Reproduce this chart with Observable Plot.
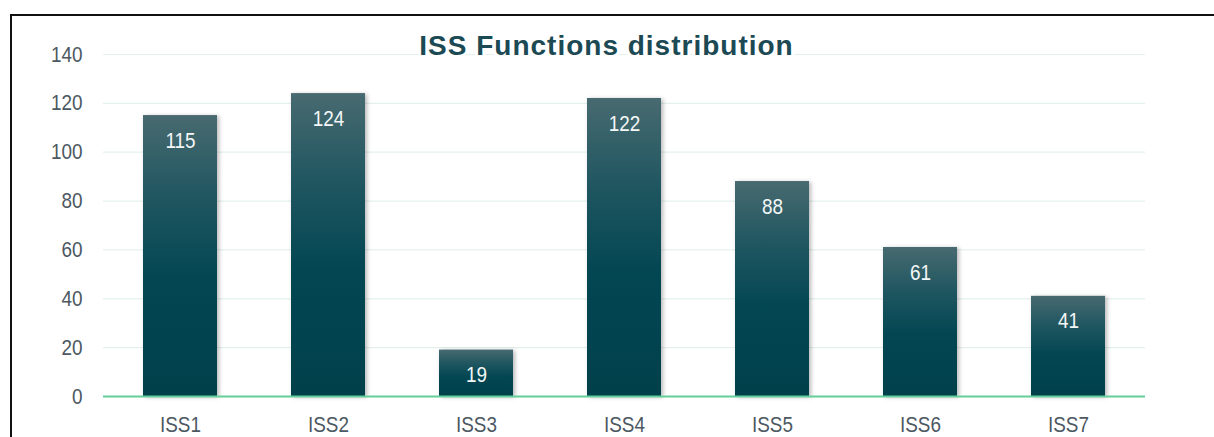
<!DOCTYPE html>
<html>
<head>
<meta charset="utf-8">
<script src="https://cdn.jsdelivr.net/npm/d3@7"></script>
<script src="https://cdn.jsdelivr.net/npm/@observablehq/plot@0.6"></script>
<style>
  html, body { margin: 0; padding: 0; background: #fff; }
  #wrap { position: relative; width: 1214px; height: 437px; overflow: hidden; }
  #border { position: absolute; left: 10px; top: 14px; right: -4px; bottom: -4px;
            border-top: 2.5px solid #111; border-left: 2.5px solid #111; pointer-events: none; }
  #wrap svg g[aria-label="bar"] rect { filter: drop-shadow(2px 1px 2px rgba(0,0,0,0.28)); }
  #wrap svg g[aria-description="chart title"] text { letter-spacing: 1px; }
</style>
</head>
<body>
<div id="wrap"><div id="border"></div></div>
<script>
// ISS function counts
const categories = ["ISS1", "ISS2", "ISS3", "ISS4", "ISS5", "ISS6", "ISS7"];
const counts = [115, 124, 19, 122, 88, 61, 41];
const yTicks = [0, 20, 40, 60, 80, 100, 120, 140];
const chartTitle = "ISS Functions distribution";

const rows = categories.map((c, i) => ({category: c, count: counts[i]}));

const sans = "'Liberation Sans', Arial, sans-serif";

const chart = Plot.plot({
  width: 1214,
  height: 437,
  marginLeft: 103,
  marginRight: 69,
  marginTop: 54,
  marginBottom: 41,
  style: {fontFamily: sans, background: "transparent"},
  x: {domain: categories, paddingInner: 0.5, paddingOuter: 0.25, label: null},
  y: {domain: [0, 140], label: null},
  marks: [
    Plot.ruleY(yTicks.filter(d => d > 0), {stroke: "#e3f1ec", strokeWidth: 1.2}),
    Plot.text([chartTitle], {
      ariaDescription: "chart title",
      frameAnchor: "top", lineAnchor: "middle", dx: -18, dy: -8,
      fontWeight: "bold", fontSize: 28, fill: "#1c4a54",
      stroke: "white", strokeWidth: 6
    }),
    Plot.barY(rows, {x: "category", y: "count", fill: "url(#barGrad)"}),
    Plot.ruleY([0], {stroke: "#63cf9a", strokeWidth: 2}),
    Plot.text(rows, {
      ariaDescription: "bar values",
      x: "category", y: "count", text: d => String(d.count), dy: 25,
      fill: "#f4f7f7", fontSize: 22
    }),
    Plot.axisY({ticks: yTicks, tickSize: 0, tickPadding: 21, fontSize: 22, color: "#4c5862", label: null}),
    Plot.axisX({tickSize: 0, tickPadding: 20, fontSize: 22, color: "#4c5862", label: null})
  ]
});

// vertical gradient applied per bar: grey-teal on top, deep teal below
const defs = d3.select(chart).insert("defs", ":first-child");
const grad = defs.append("linearGradient")
  .attr("id", "barGrad").attr("x1", 0).attr("y1", 0).attr("x2", 0).attr("y2", 1);
grad.append("stop").attr("offset", "0%").attr("stop-color", "#486a70");
grad.append("stop").attr("offset", "30%").attr("stop-color", "#1f5660");
grad.append("stop").attr("offset", "58%").attr("stop-color", "#034753");
grad.append("stop").attr("offset", "100%").attr("stop-color", "#00404b");

// condensed glyphs for the tick and value labels
d3.select(chart)
  .selectAll('g[aria-description="bar values"] text, g[aria-label="y-axis tick label"] text, g[aria-label="x-axis tick label"] text')
  .each(function () {
    const t = d3.select(this);
    const tr = t.attr("transform");
    if (tr) t.attr("transform", tr + " scale(0.86,1)");
  });

document.getElementById("wrap").prepend(chart);
</script>
</body>
</html>
